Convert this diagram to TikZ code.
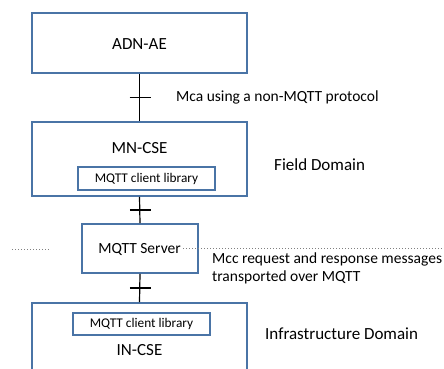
\documentclass[tikz,border=0pt]{standalone}
\usepackage{fontspec}
\setmainfont{Carlito}
\usetikzlibrary{calc}
\definecolor{boxblue}{HTML}{4A74A6}
\tikzset{
  x=1pt,y=-1pt,
  box/.style={draw=boxblue,line width=1.6pt,fill=white,inner sep=0pt},
  big/.style={font=\fontsize{17}{20}\selectfont,inner sep=0pt},
  mid/.style={font=\fontsize{15.5}{18}\selectfont,inner sep=0pt},
  small/.style={font=\fontsize{13.3}{16}\selectfont,inner sep=0pt},
  conn/.style={draw=black,line width=1.2pt},
  sep/.style={draw=gray,line width=1pt,dotted},
}
\begin{document}
\begin{tikzpicture}
\clip (0,0) rectangle (444,369);
\useasboundingbox (0,0) rectangle (444,369);
% boxes
\node[box,minimum width=215pt,minimum height=60pt] (adn) at (139.5,43) {};
\node[big] (adnt) at (139.5,44) {ADN-AE};
\node[box,minimum width=215pt,minimum height=74pt] (mn) at (139.5,159) {};
\node[big] (mnt) at (139.5,148) {MN-CSE};
\node[box,minimum width=137pt,minimum height=23pt,small] (mnlib) at (146.5,178.5) {MQTT client library};
\node[box,minimum width=116pt,minimum height=49pt] (srv) at (140,248.5) {};
\node[box,minimum width=215pt,minimum height=90pt] (in) at (139.5,348) {};
\node[box,minimum width=137pt,minimum height=22pt,small] (inlib) at (141.5,324) {MQTT client library};
\node[big] (int) at (139.5,350) {IN-CSE};
% dotted separator
\coordinate (sl1) at (12,249);
\coordinate (sl2) at (50,249);
\coordinate (sr1) at (183,248);
\coordinate (sr2) at (444,248);
\draw[sep] (sl1) -- (sl2);
\draw[sep] (sr1) -- (sr2);
\node[mid,fill=white,inner xsep=1pt] (srvt) at (139.5,249) {MQTT Server};
% connectors
\draw[conn] (adn.south) -- (mn.north);
\draw[conn] (mn.south) -- (srv.north);
\draw[conn] (srv.south) -- (in.north);
\foreach \a/\b in {adn/mn,mn/srv,srv/in}{
  \draw[conn] ($($(\a.south)!0.5!(\b.north)$)+(-10,0)$) -- ++(21,0);
}
% labels
\node[mid,anchor=west] (mca) at (176,97) {Mca using a non-MQTT protocol};
\node[big,anchor=west] (field) at (274,165) {Field Domain};
\node[mid,anchor=north west,align=left,font=\fontsize{15.5}{18}\selectfont] (mcc) at (212,253) {Mcc request and response messages\\transported over MQTT};
\node[big,anchor=west] (infra) at (265,334) {Infrastructure Domain};
\end{tikzpicture}
\end{document}
